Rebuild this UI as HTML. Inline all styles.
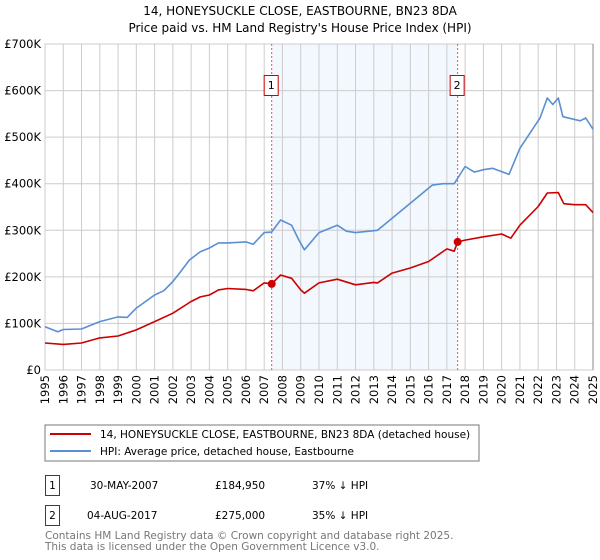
<!DOCTYPE html>
<html><head><meta charset="utf-8"><style>
body{margin:0;background:#fff;}
svg{display:block;font-family:"DejaVu Sans","Liberation Sans",sans-serif;}
</style></head><body>
<svg id="chart" width="600" height="560" viewBox="0 0 600 560">
<text x="300" y="15" text-anchor="middle" font-size="12">14, HONEYSUCKLE CLOSE, EASTBOURNE, BN23 8DA</text>
<text x="300" y="32" text-anchor="middle" font-size="12">Price paid vs. HM Land Registry's House Price Index (HPI)</text>
<g id="plot"></g>
<rect x="45" y="425" width="434" height="36" fill="#fff" stroke="#777"/>
<line x1="50" y1="434" x2="91" y2="434" stroke="#cc0000" stroke-width="2"/>
<text x="100" y="438" font-size="10.5">14, HONEYSUCKLE CLOSE, EASTBOURNE, BN23 8DA (detached house)</text>
<line x1="50" y1="451" x2="91" y2="451" stroke="#5b8fd4" stroke-width="2"/>
<text x="100" y="455" font-size="10.5">HPI: Average price, detached house, Eastbourne</text>
<g font-size="10.5">
<rect x="45.5" y="475.5" width="14" height="20" fill="none" stroke="#cc0000"/>
<text x="52.5" y="489" text-anchor="middle">1</text>
<text x="90" y="489">30-MAY-2007</text>
<text x="215" y="489">£184,950</text>
<text x="312" y="489">37% ↓ HPI</text>
<rect x="45.5" y="505.5" width="14" height="20" fill="none" stroke="#cc0000"/>
<text x="52.5" y="519" text-anchor="middle">2</text>
<text x="87" y="519">04-AUG-2017</text>
<text x="215" y="519">£275,000</text>
<text x="312" y="519">35% ↓ HPI</text>
</g>
<text x="45" y="539" font-size="10.5" fill="#777">Contains HM Land Registry data © Crown copyright and database right 2025.</text>
<text x="45" y="550" font-size="10.5" fill="#777">This data is licensed under the Open Government Licence v3.0.</text>
</svg>
<script>
const yTicks=[0,100,200,300,400,500,600,700];
const yTickLabels=["£0","£100K","£200K","£300K","£400K","£500K","£600K","£700K"];
const xYears=[1995,1996,1997,1998,1999,2000,2001,2002,2003,2004,2005,2006,2007,2008,2009,2010,2011,2012,2013,2014,2015,2016,2017,2018,2019,2020,2021,2022,2023,2024,2025];
const hpiYears=[1995,1995.7,1996,1997,1997.5,1998,1999,1999.5,2000,2001,2001.5,2002,2002.5,2002.9,2003.5,2004,2004.5,2005,2006,2006.4,2007,2007.4,2007.9,2008.5,2008.9,2009.2,2010,2011,2011.5,2012,2013.2,2014,2015,2016.2,2016.8,2017.4,2018,2018.5,2019,2019.5,2020.4,2021,2022.1,2022.5,2022.8,2023.1,2023.35,2024.3,2024.6,2025];
const hpiValues=[93,82,87,88,96,104,114,113,133,161,170,190,215,236,254,262,273,273,275,270,295,296,322,311,279,258,295,311,298,295,300,326,358,397,400,400,437,425,430,433,420,476,541,584,570,584,544,535,541,517];
const priceYears=[1995,1996,1997,1998,1999,2000,2001,2002,2003,2003.5,2004,2004.5,2005,2006,2006.4,2007,2007.41,2007.9,2008.5,2009,2009.2,2010,2011,2012,2013,2013.2,2014,2015,2016,2017,2017.4,2017.59,2018,2019,2020,2020.5,2021,2022,2022.5,2023.1,2023.4,2024,2024.6,2025];
const priceValues=[58,55,58,69,73,86,104,122,147,157,161,172,175,173,170,187,185,204,197,172,165,187,195,183,188,187,208,219,233,260,255,275,279,286,292,283,311,351,380,381,357,355,355,338];
const saleYears=[2007.41,2017.59];
const saleValues=[184.95,275];
const saleLabels=["1","2"];
const X=y=>45+(y-1995)*(548/30);
const Y=v=>370-v*(326/700);
const NS="http://www.w3.org/2000/svg";
const g=document.getElementById('plot');
function mk(t,a,p){const e=document.createElementNS(NS,t);for(const k in a)e.setAttribute(k,a[k]);(p||g).appendChild(e);return e;}
const shade=mk('rect',{x:X(saleYears[0]),y:44,width:X(saleYears[1])-X(saleYears[0]),height:326,fill:'#eef3fd',opacity:0.7});


yTicks.forEach((v,i)=>{
 const l=mk('line',{x1:45,x2:593,y1:Y(v),y2:Y(v),stroke:'#ccc'});
 
 
 const t=mk('text',{x:41,y:Y(v)+4,'text-anchor':'end','font-size':11.5});
 t.textContent=yTickLabels[i];
 
 
});
xYears.forEach(yr=>{
 const l=mk('line',{x1:X(yr),x2:X(yr),y1:44,y2:370,stroke:'#ccc'});
 
 
 const t=mk('text',{x:0,y:0,'font-size':11.5,'text-anchor':'end',transform:`translate(${X(yr)+4},375) rotate(-90)`});
 t.textContent=yr;
 
 
});
const border=mk('rect',{x:45,y:44,width:548,height:326,fill:'none',stroke:'#ccc'});


const rb=mk('line',{x1:593,x2:593,y1:44,y2:370,stroke:'#888'});


saleYears.forEach((s,i)=>{
 const l=mk('line',{x1:X(s),x2:X(s),y1:44,y2:370,stroke:'#e55','stroke-dasharray':'2,2'});
 
 
 const r=mk('rect',{x:X(s)-7.5,y:75.5,width:14,height:20,fill:'#fff',stroke:'#cc0000'});
 
 
 const t=mk('text',{x:X(s)-0.5,y:89,'text-anchor':'middle','font-size':11});
 t.textContent=saleLabels[i];
 
 
});
function line(xs,vs,col,name){
 const p=mk('polyline',{points:xs.map((x,i)=>X(x).toFixed(1)+','+Y(vs[i]).toFixed(1)).join(' '),fill:'none',stroke:col,'stroke-width':1.6,'stroke-linejoin':'round'});
 
 
}
line(hpiYears,hpiValues,'#5b8fd4','hpi-line');
line(priceYears,priceValues,'#cc0000','price-line');
saleYears.forEach((s,i)=>{
 const c=mk('circle',{cx:X(s),cy:Y(saleValues[i]),r:4,fill:'#cc0000'});
 
 
});
</script>
</body></html>
